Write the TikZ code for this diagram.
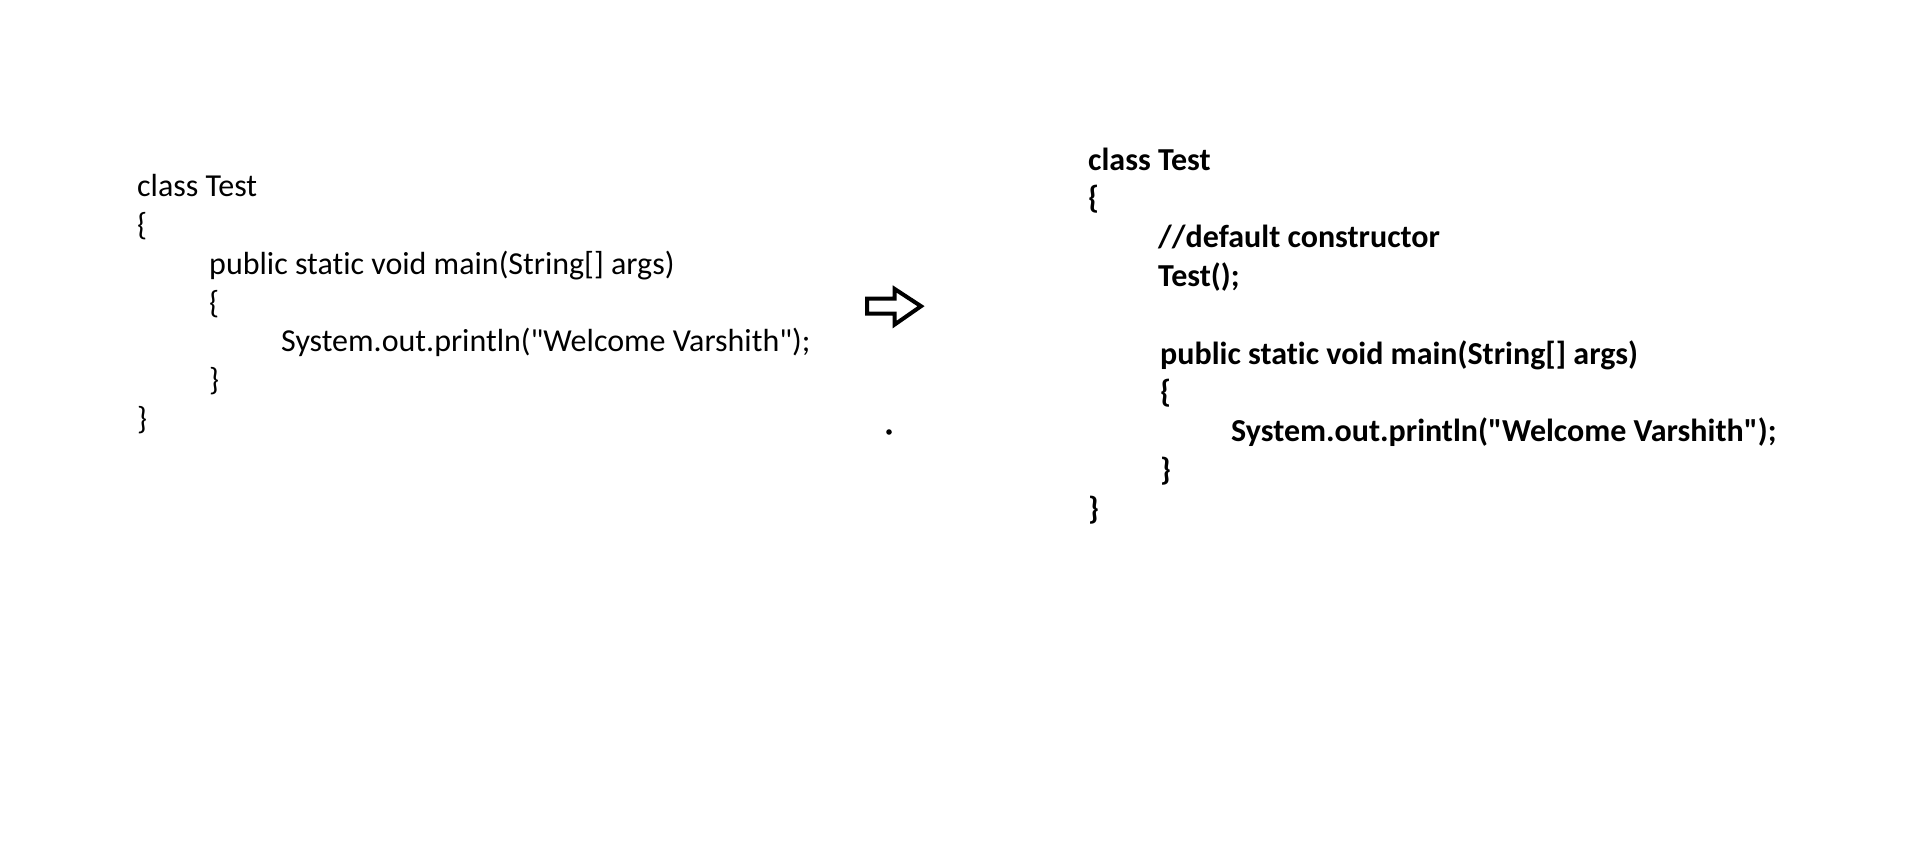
\documentclass[tikz,border=0pt]{standalone}
\usepackage{fontspec}
\setmainfont{Carlito}[Ligatures=NoCommon]
\usepackage{tikz}
\usetikzlibrary{positioning, calc}

\begin{document}
\begin{tikzpicture}[
    x=1pt, y=-1pt,
    codeline/.style={anchor=base west, inner sep=0pt, font=\fontsize{32}{38.8}\selectfont},
    boldline/.style={codeline, font=\fontsize{32}{38.8}\selectfont\bfseries}
]
    \useasboundingbox (0,0) rectangle (1914,867);

    % left: original class
    \node[codeline] (lclass) at (137,196.7) {class Test};
    \node[codeline] (lopen) at (137,235.5) {\{};
    \node[codeline] (lmain) at (209,274.3) {public static void main(String[] args)};
    \node[codeline] (lmopen) at (209,313.1) {\{};
    \node[codeline] (lprint) at (281,351.9) {System.out.println(\textquotedbl Welcome Varshith\textquotedbl);};
    \node[codeline] (lmclose) at (209,390.7) {\}};
    \node[codeline] (lclose) at (137,429.5) {\}};

    % arrow
    \draw[line width=4pt] (867,298.7) -- (894.7,298.7) -- (894.7,289) -- (921,306.2)
        -- (894.7,324.5) -- (894.7,313.7) -- (867,313.7) -- cycle;
    \fill (889,432) circle (2.8);

    % right: with default constructor
    \node[boldline] (rclass) at (1088,170) {class Test};
    \node[boldline] (ropen) at (1088,208.8) {\{};
    \node[boldline] (rcomment) at (1158,247.6) {//default constructor};
    \node[boldline] (rctor) at (1158,286.4) {Test();};
    \node[boldline] (rmain) at (1160,364) {public static void main(String[] args)};
    \node[boldline] (rmopen) at (1160,402.8) {\{};
    \node[boldline] (rprint) at (1231,441.6) {System.out.println(\textquotedbl Welcome Varshith\textquotedbl);};
    \node[boldline] (rmclose) at (1160,480.4) {\}};
    \node[boldline] (rclose) at (1088,519.2) {\}};
\end{tikzpicture}
\end{document}
